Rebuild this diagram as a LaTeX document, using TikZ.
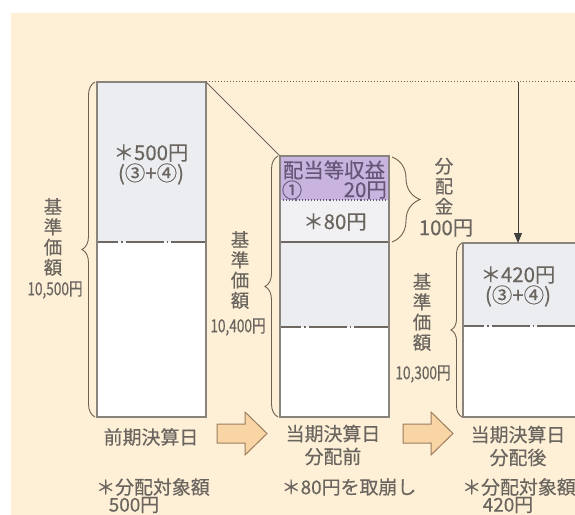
\documentclass[tikz,border=0pt]{standalone}
\usepackage{fontspec}
\setmainfont{Noto Sans CJK JP}[FakeBold=0.35]
\usetikzlibrary{decorations.pathreplacing,arrows.meta}
\definecolor{cream}{HTML}{FDF0D6}
\definecolor{txt}{HTML}{6B655F}
\definecolor{edge}{HTML}{8A847E}
\definecolor{divc}{HTML}{6F6862}
\definecolor{boxgray}{HTML}{ECEDF1}
\definecolor{boxgray2}{HTML}{F1F1F4}
\definecolor{purp}{HTML}{C9B4DF}
\definecolor{purptxt}{HTML}{675677}
\definecolor{brc}{HTML}{6E6152}
\definecolor{arrfill}{HTML}{F9D5A6}
\definecolor{arredge}{HTML}{9C7E5E}
\begin{document}
\begin{tikzpicture}[x=1bp,y=-1bp,
  lab/.style={text=txt, font=\fontsize{19}{23}\selectfont, inner sep=0pt, align=center},
  inlab/.style={text=txt, font=\fontsize{20.5}{21}\selectfont, inner sep=0pt, align=center},
  vlab/.style={text=txt, font=\fontsize{18.5}{20.3}\selectfont, inner sep=0pt, align=center},
  numlab/.style={text=txt, font=\fontsize{18}{19}\selectfont, inner sep=0pt},
  boxedge/.style={draw=edge, line width=1.3bp},
  divline/.style={draw=divc, line width=1.2bp, dash pattern=on 21bp off 3bp on 1.5bp off 3bp on 38bp off 3bp on 1.5bp off 3bp on 60bp},
  bracestyle/.style={draw=brc, line width=0.9bp, decorate},
  blockarrow/.style={draw=arredge, fill=arrfill, line width=1bp, line join=miter}
]
\useasboundingbox (0,0) rectangle (575,515);
\clip (0,0) rectangle (575,515);
\fill[white] (0,0) rectangle (575,515);
\fill[cream] (11,13) rectangle (575,515);

% ---- box 1
\fill[boxgray] (97,82) rectangle (206,242);
\fill[white] (97,242) rectangle (206,417);
\draw[divline] (97,242) -- (206,242);
\draw[boxedge] (97,82) rectangle (206,417);
\coordinate (b1tr) at (206,82);

% ---- box 2
\fill[purp] (280,156) rectangle (389,200);
\fill[boxgray2] (280,200) rectangle (389,242);
\fill[boxgray] (280,242) rectangle (389,327);
\fill[white] (280,327) rectangle (389,417);
\draw[draw=purptxt, line width=1.1bp, dotted] (280,200) -- (389,200);
\draw[draw=divc, line width=1.2bp] (280,242) -- (389,242);
\draw[divline] (280,327) -- (389,327);
\draw[boxedge] (280,156) rectangle (389,417);
\coordinate (b2tl) at (280,156);

% ---- box 3
\fill[boxgray] (463,243) rectangle (585,326);
\fill[white] (463,326) rectangle (585,417);
\draw[divline] (463,326) -- (585,326);
\draw[boxedge] (463,243) rectangle (585,417);
\coordinate (b3top) at (518,243);
\coordinate (dotend) at (576,82);
\coordinate (arrstart) at (518,82);

% ---- connectors
\draw[brc, line width=1bp, dotted] (b1tr) -- (dotend);
\draw[divc, line width=1bp] (b1tr) -- (b2tl);
\draw[draw=black!75, line width=1bp, -{Triangle[length=10bp,width=8bp]}] (arrstart) -- (b3top);

% ---- braces
\draw[bracestyle, decoration={brace, amplitude=13bp}] (95,417) -- (95,82);
\draw[bracestyle, decoration={brace, amplitude=13bp}] (278,417) -- (278,156);
\draw[bracestyle, decoration={brace, amplitude=11bp}] (462,417) -- (462,243);
\draw[bracestyle, decoration={brace, amplitude=28bp}] (392,157) -- (392,242);

% ---- block arrows
\draw[blockarrow] (217,424) -- (245,424) -- (245,412) -- (267,433.5) -- (245,455) -- (245,443) -- (217,443) -- cycle;
\draw[blockarrow] (403,424) -- (431,424) -- (431,412) -- (453,433.5) -- (431,455) -- (431,443) -- (403,443) -- cycle;

% ---- texts in boxes
\node[inlab] (t500) at (151,153) {＊500円};
\node[inlab] (t500b) at (151,174) {(③+④)};
\node[inlab, text=purptxt] (thai) at (334,170) {配当等収益};
\node[inlab, text=purptxt] (tcirc) at (292,190) {①};
\node[inlab, text=purptxt, anchor=east] (t20) at (387,190) {20円};
\node[inlab] (t80) at (335,222) {＊80円};
\node[inlab] (t420) at (518,275) {＊420円};
\node[inlab] (t420b) at (518,296) {(③+④)};

% ---- side labels
\node[vlab] (k1) at (53,237) {基\\準\\価\\額};
\node[numlab] (n1) at (55,290) {\scalebox{0.76}[1]{10,500円}};
\node[vlab] (k2) at (240,270) {基\\準\\価\\額};
\node[numlab] (n2) at (238,327) {\scalebox{0.76}[1]{10,400円}};
\node[vlab] (k3) at (422,312) {基\\準\\価\\額};
\node[numlab] (n3) at (423,374) {\scalebox{0.76}[1]{10,300円}};
\node[vlab] (kb) at (444,186) {分\\配\\金};
\node[inlab] (n100) at (446,228) {100円};

% ---- bottom labels
\node[lab] (d1) at (151,437) {前期決算日};
\node[lab] (d2) at (333,445) {当期決算日\\分配前};
\node[lab] (d3) at (518,446) {当期決算日\\分配後};
\node[lab] (s1) at (153,487) {＊分配対象額};
\node[lab] (s1b) at (134,505) {500円};
\node[lab] (s2) at (349,487) {＊80円を取崩し};
\node[lab, anchor=west] (s3) at (462,487) {＊分配対象額};
\node[lab] (s3b) at (508,505) {420円};
\end{tikzpicture}
\end{document}
